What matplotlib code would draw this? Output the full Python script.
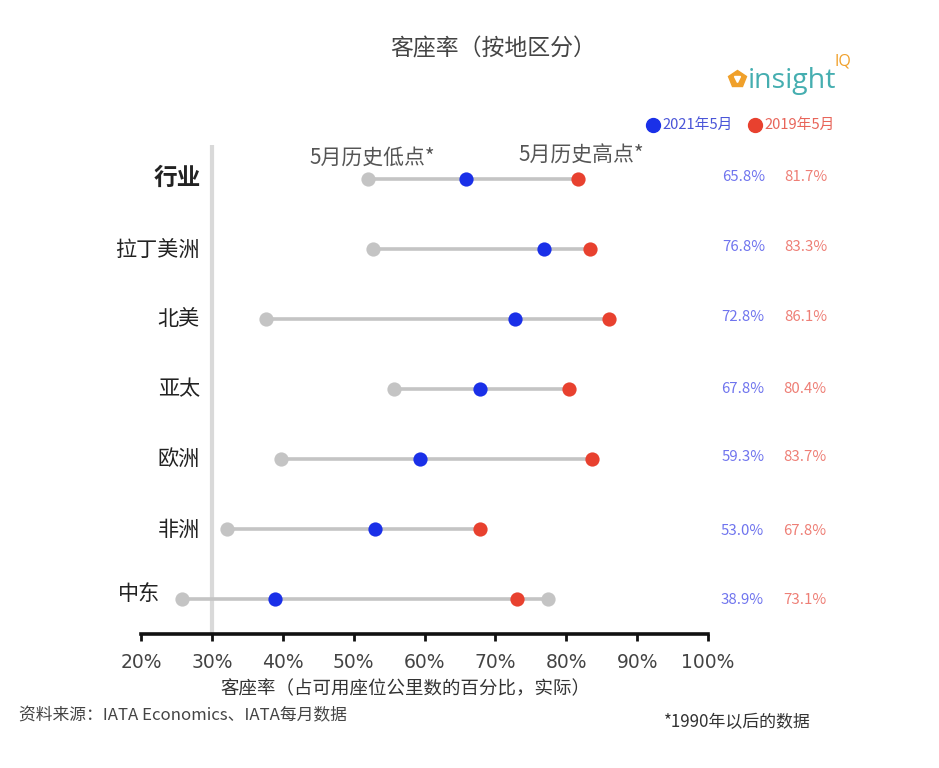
import matplotlib
matplotlib.use("Agg")
import matplotlib.pyplot as plt

plt.rcParams['font.family'] = ['Noto Sans CJK SC', 'DejaVu Sans']

regions = ['行业', '拉丁美洲', '北美', '亚太', '欧洲', '非洲', '中东']
may_2021 = [65.8, 76.8, 72.8, 67.8, 59.3, 53.0, 38.9]
may_2019 = [81.7, 83.3, 86.1, 80.4, 83.7, 67.8, 73.1]
hist_low = [52.0, 52.7, 37.6, 55.7, 39.8, 32.1, 25.8]
hist_high = [81.7, 83.3, 86.1, 80.4, 83.7, 67.8, 77.4]
ticks = [20, 30, 40, 50, 60, 70, 80, 90, 100]

W, H = 939, 768
BLUE, RED, GREY = '#1a30e8', '#e8412f', '#c4c4c4'
fig = plt.figure(figsize=(W / 100, H / 100), dpi=100, facecolor='white')
L, R, T, B = 141, 708, 145, 634
ax = fig.add_axes([L / W, 1 - B / H, (R - L) / W, (B - T) / H])
ax.set_xlim(20, 100)
ax.set_ylim(6.5, -0.486)
ax.patch.set_alpha(0)
for s in ('top', 'right', 'left'):
    ax.spines[s].set_visible(False)
ax.spines['bottom'].set_linewidth(2.6)
ax.spines['bottom'].set_color('#111111')
ax.set_xticks(ticks)
ax.set_xticklabels([f'{t}%' for t in ticks], fontsize=13.5, color='#444444', family='DejaVu Sans')
ax.tick_params(axis='x', length=5, width=2, color='#111111', pad=9)
ax.set_yticks([])
ax.axvline(30, color='#d9d9d9', lw=3, zorder=1)

rows = range(len(regions))
ax.hlines(rows, hist_low, hist_high, color='#c4c4c4', lw=2.6, zorder=2)
ax.scatter(hist_low, rows, s=105, color=GREY, zorder=3, linewidths=0)
ax.scatter([hist_high[6]], [6], s=105, color=GREY, zorder=3, linewidths=0)
ax.scatter(may_2019, rows, s=105, color=RED, zorder=4, linewidths=0)
ax.scatter(may_2021, rows, s=105, color=BLUE, zorder=5, linewidths=0)


def px(x, y, s, **kw):
    kw.setdefault('ha', 'center')
    kw.setdefault('va', 'center')
    fig.text(x / W, 1 - y / H, s, **kw)


label_right = [201, 200, 200, 200, 200, 200, 160]
label_y = [178, 250, 319, 389, 459, 530, 594]
for i, name in enumerate(regions):
    bold = i == 0
    px(label_right[i], label_y[i], name, ha='right', fontsize=17 if bold else 15.2,
       color='#222222', fontweight='bold' if bold else 'normal')

blue_x = [744, 744, 743, 743, 743, 742, 742]
red_x = [806, 806, 806, 805, 805, 805, 805]
val_y = [177, 247, 317, 389, 457, 531, 600]
for i in rows:
    px(blue_x[i], val_y[i], f'{may_2021[i]:.1f}%', fontsize=10.8, color='#6f74ee')
    px(red_x[i], val_y[i], f'{may_2019[i]:.1f}%', fontsize=10.8, color='#ee7f76')

px(493, 49, '客座率（按地区分）', fontsize=16.5, color='#444444', fontweight='medium')
px(372, 158, '5月历史低点*', fontsize=15, color='#555555')
px(581, 156, '5月历史高点*', fontsize=15, color='#555555')
px(405, 689, '客座率（占可用座位公里数的百分比，实际）', fontsize=13.3, color='#333333')
px(19, 716, '资料来源：IATA Economics、IATA每月数据', ha='left', fontsize=12.1, color='#444444')
px(737, 722, '*1990年以后的数据', fontsize=12.2, color='#333333')

# legend
fig.add_artist(plt.Line2D([653 / W], [1 - 125 / H], marker='o', ms=10, color=BLUE, lw=0))
px(662, 125, '2021年5月', ha='left', fontsize=10.6, color='#4a55d8')
fig.add_artist(plt.Line2D([755 / W], [1 - 125 / H], marker='o', ms=10, color=RED, lw=0))
px(764, 125, '2019年5月', ha='left', fontsize=10.6, color='#e8655a')

# logo
fig.add_artist(plt.Line2D([737 / W], [1 - 79 / H], marker='p', ms=13, color='#f0a02a', lw=0))
fig.add_artist(plt.Line2D([737 / W], [1 - 79 / H], marker='v', ms=5, color='white', lw=0))
px(748, 81, 'insight', ha='left', fontsize=20.5, color='#45aeb0', family='Open Sans')
px(843, 61, 'IQ', fontsize=11.5, color='#f0a02a', family='Open Sans')

fig.savefig('out.png', dpi=100, facecolor='white')
